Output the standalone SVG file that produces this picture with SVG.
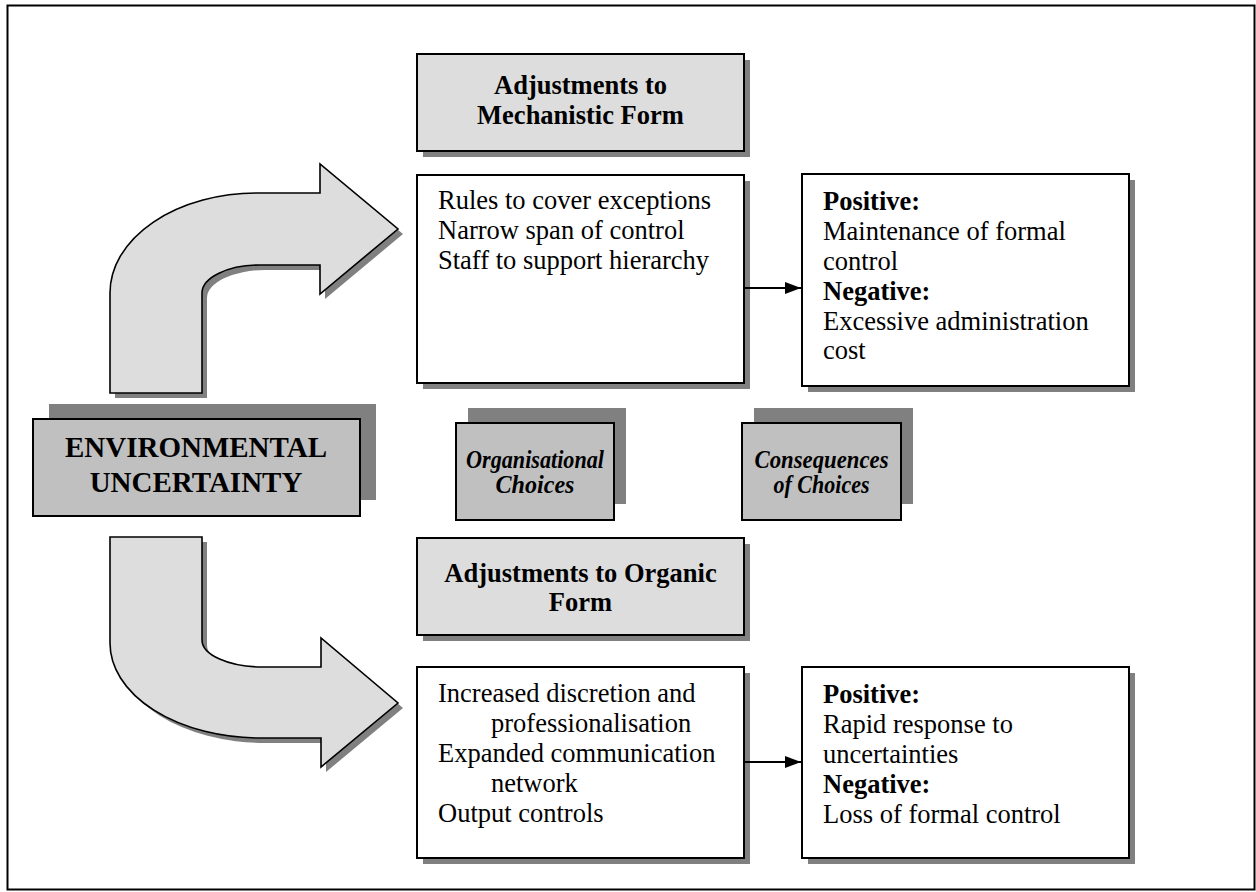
<svg xmlns="http://www.w3.org/2000/svg" width="1256" height="892" viewBox="0 0 1256 892">
  <defs>
    <style>
      .frame { fill: none; stroke: #000; stroke-width: 2; }
      .shadow { fill: #808080; }
      .light { fill: #dddddd; stroke: #000; stroke-width: 2; }
      .mid { fill: #c0c0c0; stroke: #000; stroke-width: 2; }
      .plain { fill: #fff; stroke: #000; stroke-width: 2; }
      .bend { fill: #dddddd; stroke: #000; stroke-width: 1.6; stroke-linejoin: miter; }
      text { font-family: "Liberation Serif", "Times New Roman", serif; fill: #000; }
      .body { font-size: 26.5px; }
      .head { font-size: 26.5px; font-weight: bold; text-anchor: middle; }
      .big { font-size: 29px; font-weight: bold; text-anchor: middle; }
      .label { font-size: 25px; font-weight: bold; font-style: italic; text-anchor: middle; }
      .b { font-weight: bold; }
      .link { stroke: #000; stroke-width: 2; fill: none; }
    </style>
    <marker id="head" viewBox="0 0 16 12" refX="16" refY="6" markerWidth="16" markerHeight="12" markerUnits="userSpaceOnUse" orient="auto">
      <path d="M0 0 L16 6 L0 12 Z" fill="#000"/>
    </marker>
    <path id="bendUp" d="M110 393 L110 293 A147 100 0 0 1 257 193 L320 193 L320 164 L398 229 L320 294 L320 265 L260 265 A58 28 0 0 0 202 293 L202 393 Z"/>
    <path id="bendDown" d="M110 537 L202 537 L202 640 A60 27 0 0 0 262 667 L321 667 L321 638 L398 703 L321 767 L321 738 L260 738 A150 95 0 0 1 110 643 Z"/>
  </defs>

  <rect class="frame" x="7.5" y="5.5" width="1247" height="884"/>

  <!-- curved arrows leaving the central box -->
  <g id="arrow-up">
    <use href="#bendUp" class="shadow" transform="translate(5,5)"/>
    <use href="#bendUp" class="bend"/>
  </g>
  <g id="arrow-down">
    <use href="#bendDown" class="shadow" transform="translate(5,5)"/>
    <use href="#bendDown" class="bend"/>
  </g>

  <g id="environmental-uncertainty">
    <rect class="shadow" x="49" y="404" width="327" height="96"/>
    <rect class="mid" x="33" y="419" width="327" height="97"/>
    <text class="big" x="196" y="457">ENVIRONMENTAL</text>
    <text class="big" x="196" y="492">UNCERTAINTY</text>
  </g>

  <g id="mechanistic-header">
    <rect class="shadow" x="423" y="60" width="327" height="97"/>
    <rect class="light" x="417" y="54" width="327" height="97"/>
    <text class="head" x="580.5" y="94">Adjustments to</text>
    <text class="head" x="580.5" y="124">Mechanistic Form</text>
  </g>

  <g id="mechanistic-choices">
    <rect class="shadow" x="423" y="181" width="327" height="208"/>
    <rect class="plain" x="417" y="175" width="327" height="208"/>
    <text class="body" x="438" y="209">Rules to cover exceptions</text>
    <text class="body" x="438" y="239">Narrow span of control</text>
    <text class="body" x="438" y="269">Staff to support hierarchy</text>
  </g>

  <g id="mechanistic-consequences">
    <rect class="shadow" x="808" y="180" width="327" height="212"/>
    <rect class="plain" x="802" y="174" width="327" height="212"/>
    <text class="body b" x="823" y="210">Positive:</text>
    <text class="body" x="823" y="240">Maintenance of formal</text>
    <text class="body" x="823" y="270">control</text>
    <text class="body b" x="823" y="300">Negative:</text>
    <text class="body" x="823" y="330">Excessive administration</text>
    <text class="body" x="823" y="359">cost</text>
  </g>

  <g id="organisational-choices">
    <rect class="shadow" x="468" y="408" width="158" height="96"/>
    <rect class="mid" x="456" y="423" width="158" height="97"/>
    <text class="label" x="535" y="468" textLength="138" lengthAdjust="spacingAndGlyphs">Organisational</text>
    <text class="label" x="535" y="493" textLength="79" lengthAdjust="spacingAndGlyphs">Choices</text>
  </g>

  <g id="consequences-of-choices">
    <rect class="shadow" x="754" y="408" width="159" height="96"/>
    <rect class="mid" x="742" y="423" width="159" height="97"/>
    <text class="label" x="821.5" y="468" textLength="134" lengthAdjust="spacingAndGlyphs">Consequences</text>
    <text class="label" x="821.5" y="493" textLength="96" lengthAdjust="spacingAndGlyphs">of Choices</text>
  </g>

  <g id="organic-header">
    <rect class="shadow" x="423" y="544" width="327" height="97"/>
    <rect class="light" x="417" y="538" width="327" height="97"/>
    <text class="head" x="580.5" y="582">Adjustments to Organic</text>
    <text class="head" x="580.5" y="611">Form</text>
  </g>

  <g id="organic-choices">
    <rect class="shadow" x="423" y="673" width="327" height="191"/>
    <rect class="plain" x="417" y="667" width="327" height="191"/>
    <text class="body" x="438" y="702">Increased discretion and</text>
    <text class="body" x="491" y="732">professionalisation</text>
    <text class="body" x="438" y="762">Expanded communication</text>
    <text class="body" x="491" y="792">network</text>
    <text class="body" x="438" y="822">Output controls</text>
  </g>

  <g id="organic-consequences">
    <rect class="shadow" x="808" y="673" width="327" height="191"/>
    <rect class="plain" x="802" y="667" width="327" height="191"/>
    <text class="body b" x="823" y="703">Positive:</text>
    <text class="body" x="823" y="733">Rapid response to</text>
    <text class="body" x="823" y="763">uncertainties</text>
    <text class="body b" x="823" y="793">Negative:</text>
    <text class="body" x="823" y="823">Loss of formal control</text>
  </g>

  <g id="connectors">
    <line class="link" x1="744" y1="288" x2="801" y2="288" marker-end="url(#head)"/>
    <line class="link" x1="744" y1="762" x2="801" y2="762" marker-end="url(#head)"/>
  </g>
</svg>
